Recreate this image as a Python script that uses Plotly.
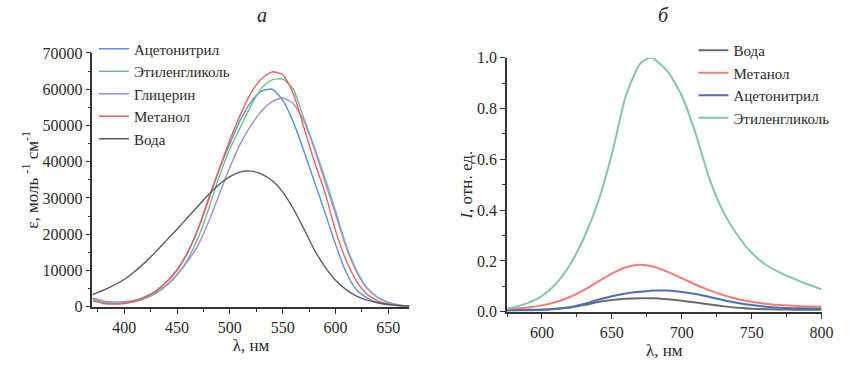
import plotly.graph_objects as go

# ---------------- Panel a: absorption ----------------
wl_a = [370, 380, 390, 400, 410, 420, 430, 440, 450, 460, 470, 480, 490, 500, 510, 520,
        530, 540, 550, 560, 570, 580, 590, 600, 610, 620, 630, 640, 650, 660, 670]

eps_acetonitrile = [2300, 1400, 1000, 1100, 1700, 2800, 4400, 6800, 10000, 14800, 21500, 30000,
                    38000, 45000, 51500, 56500, 59500, 60000, 57000, 51000, 43000, 34500, 26000,
                    17200, 9500, 4600, 2400, 1100, 500, 200, 100]
eps_ethylene_glycol = [2000, 1200, 900, 1000, 1400, 2300, 3700, 5800, 8800, 13000, 19000, 27000,
                       36000, 43500, 49500, 55500, 60300, 62600, 62800, 60000, 52000, 44000, 35500,
                       26500, 17000, 10000, 5200, 2600, 1200, 500, 250]
eps_glycerol = [2500, 1600, 1300, 1400, 1800, 2700, 4000, 6000, 8800, 12500, 17000, 23500,
                31000, 38500, 45000, 50000, 54000, 56600, 57600, 56000, 51300, 43500, 34500,
                25500, 16500, 9600, 5000, 2500, 1100, 450, 200]
eps_methanol = [1600, 900, 700, 900, 1500, 2600, 4300, 6800, 10200, 15000, 21500, 29500,
                38000, 46000, 53000, 59000, 62900, 64800, 64000, 58800, 49500, 40000, 31500,
                21000, 12800, 7000, 3400, 1600, 700, 300, 150]
eps_water = [3300, 4500, 5900, 7500, 9700, 12300, 15200, 18300, 21400, 24600, 27800, 31000,
             33800, 35900, 37200, 37400, 36600, 34800, 31700, 27100, 21500, 15700, 11000,
             7300, 4700, 2900, 1800, 1100, 650, 350, 200]

# ---------------- Panel б: fluorescence ----------------
wl_b = [575, 580, 590, 600, 610, 620, 630, 640, 650, 660, 670, 677, 680, 690, 700, 710,
        720, 730, 740, 750, 760, 770, 780, 790, 800]

I_water = [0.008, 0.008, 0.008, 0.008, 0.011, 0.017, 0.026, 0.038, 0.046, 0.051, 0.053, 0.053,
           0.053, 0.049, 0.043, 0.036, 0.028, 0.021, 0.016, 0.012, 0.010, 0.009, 0.008, 0.008, 0.008]
I_methanol = [0.010, 0.012, 0.017, 0.025, 0.038, 0.058, 0.085, 0.118, 0.150, 0.175, 0.185, 0.181,
              0.177, 0.157, 0.132, 0.106, 0.084, 0.065, 0.050, 0.039, 0.031, 0.026, 0.023, 0.021, 0.020]
I_acetonitrile = [0.005, 0.005, 0.006, 0.008, 0.012, 0.018, 0.030, 0.047, 0.061, 0.072, 0.079, 0.082,
                  0.083, 0.083, 0.078, 0.070, 0.058, 0.045, 0.034, 0.026, 0.020, 0.016, 0.014, 0.013, 0.012]
I_ethylene_glycol = [0.012, 0.018, 0.035, 0.062, 0.110, 0.185, 0.290, 0.430, 0.620, 0.850, 0.975, 1.0,
                     0.995, 0.945, 0.850, 0.700, 0.520, 0.390, 0.300, 0.232, 0.185, 0.155, 0.130, 0.108, 0.088]

xticks_a = [400, 450, 500, 550, 600, 650]
yticks_a = [0, 10000, 20000, 30000, 40000, 50000, 60000, 70000]
xticks_b = [600, 650, 700, 750, 800]
yticks_b = [0.0, 0.2, 0.4, 0.6, 0.8, 1.0]
yticklabels_b = ["0.0", "0.2", "0.4", "0.6", "0.8", "1.0"]

SERIF = "Liberation Serif, Times New Roman, serif"
AX = "#333333"
TXT = "#2a2a2a"

fig = go.Figure()

left_series = [
    ("Ацетонитрил", eps_acetonitrile, "#5b8fd6"),
    ("Этиленгликоль", eps_ethylene_glycol, "#6cbf8c"),
    ("Глицерин", eps_glycerol, "#9d90d6"),
    ("Метанол", eps_methanol, "#e8645a"),
    ("Вода", eps_water, "#5a5a68"),
]
for name, ys, col in left_series:
    fig.add_trace(go.Scatter(x=wl_a, y=ys, name=name, mode="lines",
                             line=dict(color=col, width=1.4, shape="spline", smoothing=0.6),
                             xaxis="x", yaxis="y", legend="legend"))

right_series = [
    ("Вода", I_water, "#6b6b74"),
    ("Метанол", I_methanol, "#ee7e78"),
    ("Ацетонитрил", I_acetonitrile, "#4e70b0"),
    ("Этиленгликоль", I_ethylene_glycol, "#86c3b3"),
]
for name, ys, col in right_series:
    fig.add_trace(go.Scatter(x=wl_b, y=ys, name=name, mode="lines",
                             line=dict(color=col, width=2, shape="spline", smoothing=0.6),
                             xaxis="x2", yaxis="y2", legend="legend2"))

tickfont = dict(family=SERIF, size=16, color=TXT)
titlefont = dict(family=SERIF, size=17, color=TXT)
common = dict(showgrid=False, zeroline=False, showline=True, linecolor=AX, linewidth=1.6,
              ticks="outside", ticklen=5, tickwidth=1.2, tickcolor=AX, tickfont=tickfont,
              mirror=False, automargin=False)

fig.update_layout(
    template="none",
    width=854, height=365, autosize=False,
    margin=dict(l=0, r=0, t=0, b=0, pad=0),
    paper_bgcolor="white", plot_bgcolor="white",
    font=dict(family=SERIF, size=15, color=TXT),
    showlegend=True,
    xaxis=dict(domain=[0.1083, 0.4795], range=[370, 670], tickvals=xticks_a,
               minor=dict(ticks="outside", ticklen=3, tickcolor=AX, tickwidth=1, dtick=25, tick0=375),
               title=dict(text="λ, нм", font=titlefont, standoff=0),
               anchor="y", **common),
    yaxis=dict(domain=[0.1597, 0.8548], range=[0, 70000], tickvals=yticks_a,
               ticktext=[str(v) for v in yticks_a],
               minor=dict(ticks="outside", ticklen=3, tickcolor=AX, tickwidth=1, dtick=5000),
               title=dict(text="ε, моль <sup>-1</sup> см<sup>-1</sup>", font=titlefont, standoff=0),
               anchor="x", **common),
    xaxis2=dict(domain=[0.5937, 0.9620], range=[575, 800], tickvals=xticks_b,
                minor=dict(ticks="outside", ticklen=3, tickcolor=AX, tickwidth=1, dtick=25, tick0=575),
                title=dict(text="λ, нм", font=titlefont, standoff=0),
                anchor="y2", **common),
    yaxis2=dict(domain=[0.146, 0.842], range=[0, 1.0], tickvals=yticks_b,
                ticktext=yticklabels_b,
                minor=dict(ticks="outside", ticklen=3, tickcolor=AX, tickwidth=1, dtick=0.1),
                title=dict(text="<i>I</i>, отн. ед.", font=titlefont, standoff=0),
                anchor="x2", **common),
    legend=dict(x=0.110, y=0.911, xanchor="left", yanchor="top", bgcolor="rgba(0,0,0,0)",
                font=dict(family=SERIF, size=15, color=TXT), tracegroupgap=0,
                itemwidth=30, borderwidth=0),
    legend2=dict(x=0.812, y=0.907, xanchor="left", yanchor="top", bgcolor="rgba(0,0,0,0)",
                 font=dict(family=SERIF, size=15, color=TXT), tracegroupgap=0,
                 itemwidth=30, borderwidth=0),
    annotations=[
        dict(text="<i>a</i>", x=262/854, y=1 - 15/365, xref="paper", yref="paper",
             xanchor="center", yanchor="middle",
             showarrow=False, font=dict(family=SERIF, size=20, color=TXT)),
        dict(text="<i>б</i>", x=663/854, y=1 - 15/365, xref="paper", yref="paper",
             xanchor="center", yanchor="middle",
             showarrow=False, font=dict(family=SERIF, size=20, color=TXT)),
    ],
)

fig.write_html("out.html", config={"displayModeBar": False, "responsive": False},
               post_script="document.body.style.margin='0';")
